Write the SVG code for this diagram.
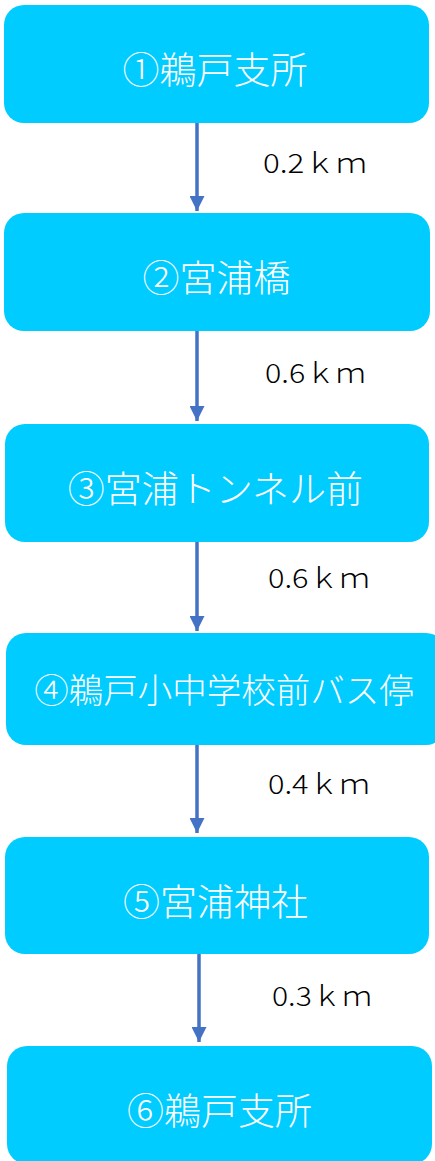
<svg xmlns="http://www.w3.org/2000/svg" width="435" height="1161" viewBox="0 0 435 1161">
<style>
.box{fill:#00CCFF}
.nt{fill:#FFFFFF;font-family:"Noto Sans CJK JP","Noto Sans",sans-serif;font-weight:300;font-size:37px;text-anchor:middle}
.dl{fill:#000000;font-family:"Noto Sans CJK JP","Noto Sans",sans-serif;font-weight:300;font-size:27px}
.cn{stroke:#4472C4;stroke-width:3.5;fill:none;marker-end:url(#ah)}
</style>
<defs>
<marker id="ah" markerUnits="userSpaceOnUse" markerWidth="15" markerHeight="15" refX="15" refY="7.5" orient="auto">
<path d="M0,0 L15,7.5 L0,15 z" fill="#4472C4"/>
</marker>
</defs>
<g id="connectors">
<line class="cn" x1="197" y1="123" x2="197" y2="211"/>
<line class="cn" x1="197" y1="331" x2="197" y2="421"/>
<line class="cn" x1="197" y1="542" x2="197" y2="631"/>
<line class="cn" x1="197" y1="745" x2="197" y2="833"/>
<line class="cn" x1="199" y1="954" x2="199" y2="1042"/>
<text class="dl" x="263" y="173" textLength="104" lengthAdjust="spacingAndGlyphs">0.2ｋｍ</text>
<text class="dl" x="265" y="383" textLength="101" lengthAdjust="spacingAndGlyphs">0.6ｋｍ</text>
<text class="dl" x="268" y="588" textLength="102" lengthAdjust="spacingAndGlyphs">0.6ｋｍ</text>
<text class="dl" x="268" y="794" textLength="102" lengthAdjust="spacingAndGlyphs">0.4ｋｍ</text>
<text class="dl" x="272" y="1006" textLength="100" lengthAdjust="spacingAndGlyphs">0.3ｋｍ</text>
</g>
<g id="n1"><rect class="box" x="4" y="5" width="425" height="118" rx="20"/><text class="nt" x="215" y="84">①鵜戸支所</text></g>
<g id="n2"><rect class="box" x="4" y="213" width="426" height="118" rx="20"/><text class="nt" x="216.5" y="292">②宮浦橋</text></g>
<g id="n3"><rect class="box" x="5" y="424" width="424" height="118" rx="20"/><text class="nt" x="215.5" y="503">③宮浦トンネル前</text></g>
<g id="n4"><rect class="box" x="6" y="633" width="440" height="112" rx="20"/><text class="nt" x="224" y="703" style="font-size:34.5px">④鵜戸小中学校前バス停</text></g>
<g id="n5"><rect class="box" x="5" y="837" width="424" height="117" rx="20"/><text class="nt" x="215.5" y="916">⑤宮浦神社</text></g>
<g id="n6"><rect class="box" x="7" y="1046" width="425" height="118" rx="20"/><text class="nt" x="219.5" y="1125">⑥鵜戸支所</text></g>
</svg>
